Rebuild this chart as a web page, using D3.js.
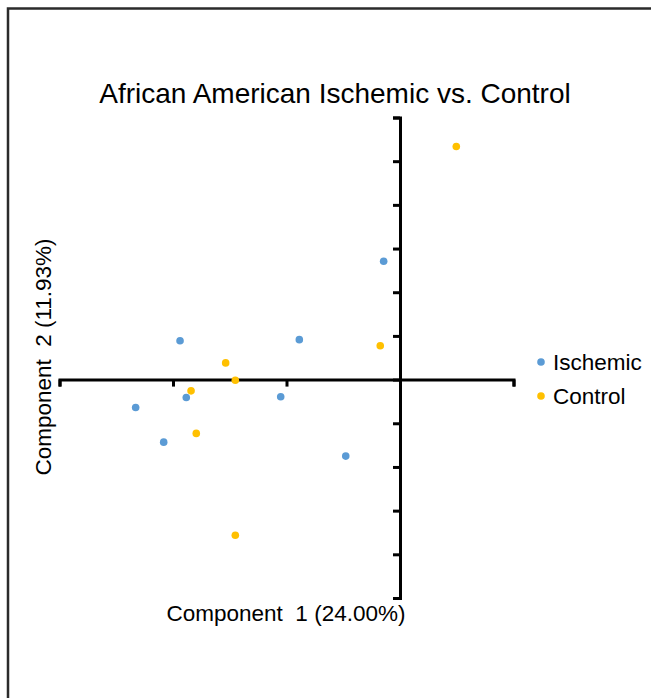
<!DOCTYPE html>
<html>
<head>
<meta charset="utf-8">
<script src="https://cdn.jsdelivr.net/npm/d3@7"></script>
<style>
	body { margin: 0; background: #fff; }
	svg { display: block; font-family: "Liberation Sans", Arial, sans-serif; }
</style>
</head>
<body>
<div id="chart"></div>
<script>
// PCA scores
const ischemicX = [-0.0144, -0.1938, -0.0887, -0.2329, -0.1883, -0.1051, -0.2082, -0.0478]
const ischemicY = [0.1355, 0.0445, 0.0457, -0.0320, -0.0205, -0.0197, -0.0716, -0.0876]

const controlX = [0.0496, -0.0174, -0.1536, -0.1451, -0.1841, -0.1795, -0.1451]
const controlY = [0.2668, 0.0388, 0.0191, -0.0008, -0.0129, -0.0616, -0.1781]

const seriesNames = ["Ischemic", "Control"]
const seriesColors = ["#5b9bd5", "#ffc000"]

const xTicks = [-0.3, -0.2, -0.1, 0, 0.1]
const yTicks = d3.range(-5, 7).map(d => d * 0.05)

function renderChart() {
	const dims = {
		width: 651,
		height: 698,
	}

	const svg = d3.select("#chart").append("svg")
		.attr("width", dims.width)
		.attr("height", dims.height)

	// frame (only top and left edges show in the picture)
	svg.append("path")
		.attr("d", "M8,698 V8.5 H651")
		.attr("fill", "none")
		.attr("stroke", "#2b2b2b")
		.attr("stroke-width", 2.5)

	const x = d3.scaleLinear()
		.domain([-0.3, 0.1])
		.range([59.5, 513.5])

	const y = d3.scaleLinear()
		.domain([-0.25, 0.3])
		.range([598, 117.5])

	svg.append("g")
		.attr("transform", `translate(0,${y(0)})`)
		.call(d3.axisBottom(x).tickValues(xTicks).tickSize(7).tickSizeOuter(7).tickFormat(""))

	svg.append("g")
		.attr("transform", `translate(${x(0)},0)`)
		.call(d3.axisLeft(y).tickValues(yTicks).tickSize(7).tickSizeOuter(7).tickFormat(""))

	svg.selectAll(".domain, .tick line")
		.attr("stroke", "#000")
		.attr("stroke-width", 3)

	const series = [
		{name: seriesNames[0], color: seriesColors[0], xs: ischemicX, ys: ischemicY},
		{name: seriesNames[1], color: seriesColors[1], xs: controlX, ys: controlY},
	]

	series.forEach(s => {
		svg.append("g")
			.selectAll("circle")
			.data(s.xs.map((d, i) => [d, s.ys[i]]))
			.join("circle")
				.attr("cx", d => x(d[0]))
				.attr("cy", d => y(d[1]))
				.attr("r", 3.8)
				.attr("fill", s.color)
	})

	svg.append("text")
		.attr("x", 335)
		.attr("y", 103)
		.attr("text-anchor", "middle")
		.attr("font-size", 28)
		.attr("fill", "#000")
		.text("African American Ischemic vs. Control")

	svg.append("text")
		.attr("x", 286)
		.attr("y", 621)
		.attr("text-anchor", "middle")
		.attr("font-size", 22.5)
		.attr("fill", "#000")
		.attr("xml:space", "preserve")
		.text("Component  1 (24.00%)")

	svg.append("text")
		.attr("transform", "translate(51,357) rotate(-90)")
		.attr("text-anchor", "middle")
		.attr("font-size", 22.5)
		.attr("fill", "#000")
		.attr("xml:space", "preserve")
		.text("Component  2 (11.93%)")

	const legend = svg.append("g")
		.selectAll("g")
		.data(series)
		.join("g")
			.attr("transform", (d, i) => `translate(541,${362 + i * 34})`)

	legend.append("circle")
		.attr("r", 3.8)
		.attr("fill", d => d.color)

	legend.append("text")
		.attr("x", 12)
		.attr("y", 8)
		.attr("font-size", 22.5)
		.attr("fill", "#000")
		.text(d => d.name)
}
renderChart()
</script>
</body>
</html>
